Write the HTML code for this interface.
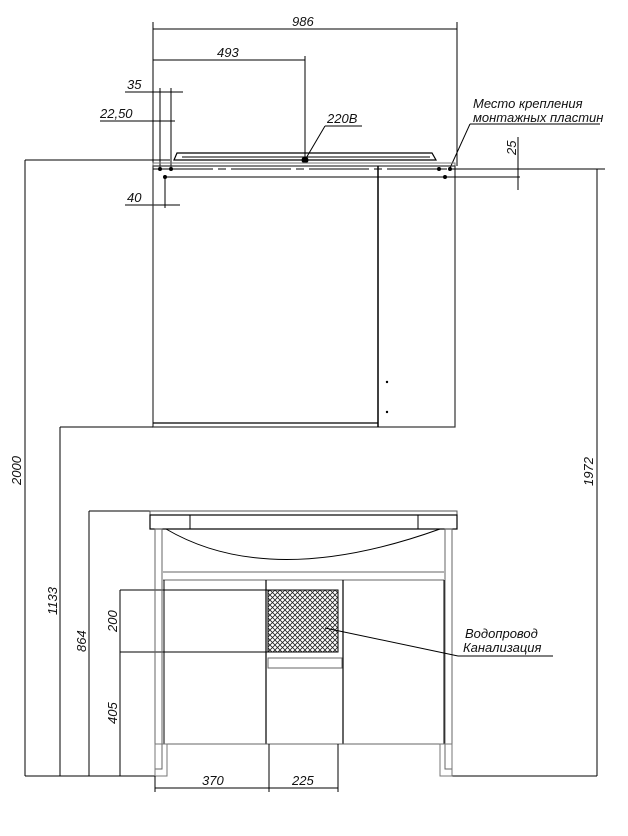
<!DOCTYPE html>
<html><head><meta charset="utf-8"><style>
html,body{margin:0;padding:0;background:#fff;}
text{font-family:"Liberation Sans","DejaVu Sans",sans-serif;font-style:italic;font-size:13px;fill:#111;}
</style></head><body>
<svg width="628" height="831" viewBox="0 0 628 831" xmlns="http://www.w3.org/2000/svg">
<g stroke="#000" stroke-width="1" fill="none">
<line x1="153" y1="22" x2="153" y2="166"/>
<line x1="457" y1="22" x2="457" y2="166"/>
<line x1="153" y1="29" x2="457" y2="29"/>
<line x1="153" y1="60" x2="305" y2="60"/>
<line x1="305" y1="56" x2="305" y2="160"/>
<line x1="125" y1="92" x2="183" y2="92"/>
<line x1="160" y1="88" x2="160" y2="170"/>
<line x1="171" y1="88" x2="171" y2="170"/>
<line x1="100" y1="121" x2="175" y2="121"/>
<line x1="125" y1="205" x2="180" y2="205"/>
<line x1="165" y1="175" x2="165" y2="208"/>
<line x1="305" y1="160" x2="325" y2="126"/>
<line x1="325" y1="126" x2="362" y2="126"/>
<circle cx="305" cy="160" r="3" fill="#000"/>
<line x1="450" y1="168" x2="470" y2="124"/>
<line x1="470" y1="124" x2="600" y2="124"/>
<path d="M174 160 L177 153 L432 153 L436 160 Z" stroke-width="1.2"/>
<line x1="182" y1="157" x2="430" y2="157"/>
<rect x="153" y="163" width="302" height="3" stroke="#777"/>
<rect x="153" y="166" width="302" height="261" stroke="#333" stroke-width="1.2"/>
<line x1="378" y1="166" x2="378" y2="427" stroke-width="1.5"/>
<line x1="153" y1="423" x2="378" y2="423" stroke-width="1.2"/>
<line x1="153" y1="169" x2="520" y2="169" stroke-dasharray="60,5,8,5"/>
<line x1="165" y1="177" x2="520" y2="177"/>
<line x1="25" y1="160" x2="170" y2="160"/>
<line x1="460" y1="169" x2="605" y2="169"/>
<line x1="518" y1="137" x2="518" y2="190"/>
<line x1="597" y1="169" x2="597" y2="776"/>
<line x1="25" y1="160" x2="25" y2="776"/>
<line x1="60" y1="427" x2="60" y2="776"/>
<line x1="60" y1="427" x2="153" y2="427"/>
<line x1="89" y1="511" x2="89" y2="776"/>
<line x1="89" y1="511" x2="150" y2="511"/>
<line x1="120" y1="590" x2="120" y2="776"/>
<line x1="120" y1="590" x2="268" y2="590"/>
<line x1="120" y1="652" x2="268" y2="652"/>
<line x1="25" y1="776" x2="165" y2="776"/>
<line x1="452" y1="776" x2="597" y2="776"/>
<rect x="150" y="511" width="307" height="4" stroke="#555"/>
<rect x="150" y="515" width="307" height="14" stroke-width="1.2"/>
<line x1="190" y1="515" x2="190" y2="529"/>
<line x1="418" y1="515" x2="418" y2="529"/>
<path d="M166 529 Q270 590 440 529"/>
<rect x="155" y="529" width="7" height="240" stroke="#666"/>
<rect x="445" y="529" width="7" height="240" stroke="#666"/>
<line x1="163" y1="572" x2="444" y2="572" stroke="#666"/>
<line x1="163" y1="580" x2="444" y2="580" stroke="#666"/>
<line x1="164" y1="580" x2="164" y2="744"/>
<line x1="266" y1="580" x2="266" y2="744" stroke-width="1.2"/>
<line x1="343" y1="580" x2="343" y2="744" stroke-width="1.2"/>
<line x1="444" y1="580" x2="444" y2="744"/>
<line x1="163" y1="744" x2="444" y2="744" stroke="#666"/>
<rect x="268" y="658" width="74" height="10" stroke="#666"/>
<rect x="155" y="744" width="12" height="32" stroke="#777"/>
<rect x="440" y="744" width="12" height="32" stroke="#777"/>
<pattern id="m" width="5" height="5" patternUnits="userSpaceOnUse"><path d="M0 0L5 5M5 0L0 5" stroke="#222" stroke-width="0.8"/></pattern>
<rect x="268" y="590" width="70" height="62" fill="url(#m)" stroke="#000"/>
<line x1="325" y1="628" x2="458" y2="656"/>
<line x1="458" y1="656" x2="553" y2="656"/>
<line x1="155" y1="776" x2="155" y2="792"/>
<line x1="269" y1="744" x2="269" y2="792"/>
<line x1="338" y1="744" x2="338" y2="792"/>
<line x1="155" y1="788" x2="338" y2="788"/>
</g>
<g fill="#000">
<circle cx="387" cy="382" r="1.2"/><circle cx="387" cy="412" r="1.2"/>
<circle cx="165" cy="177" r="2"/><circle cx="445" cy="177" r="2"/>
<circle cx="160" cy="169" r="2"/><circle cx="171" cy="169" r="2"/>
<circle cx="439" cy="169" r="2"/><circle cx="450" cy="169" r="2"/>
</g>
<text x="292" y="26">986</text>
<text x="217" y="57">493</text>
<text x="127" y="89">35</text>
<text x="100" y="118">22,50</text>
<text x="127" y="202">40</text>
<text x="327" y="123">220В</text>
<text x="473" y="108">Место крепления</text>
<text x="473" y="122">монтажных пластин</text>
<text x="0" y="0" transform="translate(516,155) rotate(-90)">25</text>
<text x="0" y="0" transform="translate(21,485) rotate(-90)">2000</text>
<text x="0" y="0" transform="translate(57,615) rotate(-90)">1133</text>
<text x="0" y="0" transform="translate(86,652) rotate(-90)">864</text>
<text x="0" y="0" transform="translate(117,632) rotate(-90)">200</text>
<text x="0" y="0" transform="translate(117,724) rotate(-90)">405</text>
<text x="0" y="0" transform="translate(593,486) rotate(-90)">1972</text>
<text x="465" y="638">Водопровод</text>
<text x="463" y="652">Канализация</text>
<text x="202" y="785">370</text>
<text x="292" y="785">225</text>
</svg>
</body></html>
